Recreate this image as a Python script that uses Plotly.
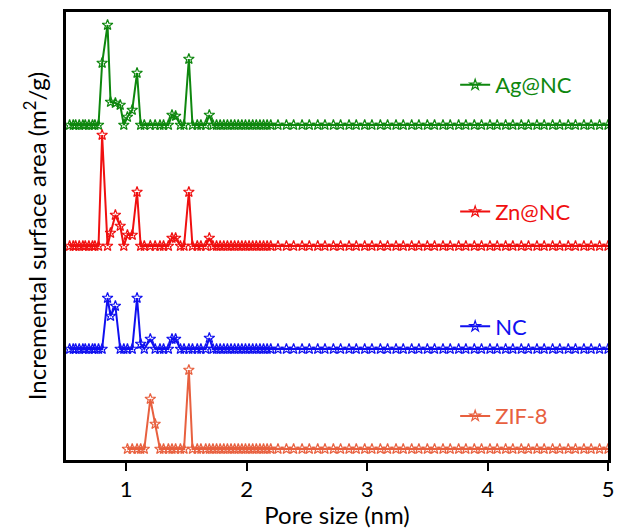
import plotly.graph_objects as go

# Pore size grid (nm)
pore = [0.53, 0.56, 0.58, 0.61, 0.64, 0.66, 0.69, 0.72, 0.74, 0.77,
        0.80, 0.845, 0.87, 0.91, 0.95, 0.98, 1.01, 1.05, 1.09, 1.12,
        1.15, 1.20, 1.24, 1.28, 1.31, 1.35, 1.38, 1.41, 1.45, 1.48,
        1.52, 1.55, 1.59, 1.62, 1.66, 1.69, 1.72, 1.75, 1.78, 1.81,
        1.84, 1.87, 1.90, 1.93, 1.96, 1.99, 2.02, 2.05, 2.08, 2.11,
        2.14, 2.17, 2.20, 2.26, 2.33, 2.39, 2.46, 2.52, 2.59, 2.65,
        2.72, 2.78, 2.85, 2.91, 2.98, 3.04, 3.11, 3.17, 3.24, 3.30,
        3.37, 3.43, 3.50, 3.56, 3.63, 3.69, 3.76, 3.82, 3.89, 3.95,
        4.02, 4.08, 4.15, 4.21, 4.28, 4.34, 4.41, 4.47, 4.54, 4.60,
        4.67, 4.73, 4.80, 4.86, 4.93, 5.00]

# Incremental surface area (arbitrary units, stacked)
ag_nc = [0, 0, 0, 0, 0, 0, 0, 0, 0, 0,
         62, 100, 23, 22, 20, 0, 8, 15, 52, 0,
         0, 0, 0, 0, 0, 0, 10, 9, 0, 0,
         66, 0, 0, 0, 0, 10, 0, 0, 0, 0,
         0, 0, 0, 0, 0, 0, 0, 0, 0, 0,
         0, 0, 0, 0, 0, 0, 0, 0, 0, 0,
         0, 0, 0, 0, 0, 0, 0, 0, 0, 0,
         0, 0, 0, 0, 0, 0, 0, 0, 0, 0,
         0, 0, 0, 0, 0, 0, 0, 0, 0, 0,
         0, 0, 0, 0, 0, 0]
zn_nc = [0, 0, 0, 0, 0, 0, 0, 0, 0, 0,
         111, 0, 13, 31, 20, 0, 11, 11, 54, 0,
         0, 0, 0, 0, 0, 0, 8, 8, 0, 0,
         54, 0, 0, 0, 0, 8, 0, 0, 0, 0,
         0, 0, 0, 0, 0, 0, 0, 0, 0, 0,
         0, 0, 0, 0, 0, 0, 0, 0, 0, 0,
         0, 0, 0, 0, 0, 0, 0, 0, 0, 0,
         0, 0, 0, 0, 0, 0, 0, 0, 0, 0,
         0, 0, 0, 0, 0, 0, 0, 0, 0, 0,
         0, 0, 0, 0, 0, 0]
nc = [0, 0, 0, 0, 0, 0, 0, 0, 0, 0,
      0, 51, 33, 43, 0, 0, 0, 0, 51, 5,
      0, 10, 0, 0, 0, 0, 10, 10, 0, 0,
      0, 0, 0, 0, 0, 11, 0, 0, 0, 0,
      0, 0, 0, 0, 0, 0, 0, 0, 0, 0,
      0, 0, 0, 0, 0, 0, 0, 0, 0, 0,
      0, 0, 0, 0, 0, 0, 0, 0, 0, 0,
      0, 0, 0, 0, 0, 0, 0, 0, 0, 0,
      0, 0, 0, 0, 0, 0, 0, 0, 0, 0,
      0, 0, 0, 0, 0, 0]
zif_start = 16  # ZIF-8 data begins at 1.01 nm
zif8 = [0, 0, 0, 0,
        0, 50, 25, 0, 0, 0, 0, 0, 0, 0,
        79, 0, 0, 0, 0, 0, 0, 0, 0, 0,
        0, 0, 0, 0, 0, 0, 0, 0, 0, 0,
        0, 0, 0, 0, 0, 0, 0, 0, 0, 0,
        0, 0, 0, 0, 0, 0, 0, 0, 0, 0,
        0, 0, 0, 0, 0, 0, 0, 0, 0, 0,
        0, 0, 0, 0, 0, 0, 0, 0, 0, 0,
        0, 0, 0, 0, 0, 0]

names = ["Ag@NC", "Zn@NC", "NC", "ZIF-8"]
offsets = [335, 214, 111, 11]
colors = ["#0E870E", "#F01010", "#1010F0", "#E8603F"]
legend_y = [0.837, 0.554, 0.298, 0.098]
legend_ids = ["legend", "legend2", "legend3", "legend4"]

xs = [pore, pore, pore, pore[zif_start:]]
ys = [ag_nc, zn_nc, nc, zif8]

FONT = "Lato"
fig = go.Figure()
for i in range(4):
    fig.add_trace(go.Scatter(
        x=xs[i], y=[v + offsets[i] for v in ys[i]],
        mode="lines+markers", name=names[i],
        line=dict(color=colors[i], width=2),
        marker=dict(symbol="star-open", size=8, color=colors[i],
                    line=dict(width=1.2, color=colors[i])),
        legend=legend_ids[i], showlegend=True))

layout_legends = {}
for i in range(4):
    layout_legends[legend_ids[i]] = dict(
        x=0.718, y=legend_y[i], xanchor="left", yanchor="middle",
        bgcolor="rgba(0,0,0,0)", borderwidth=0,
        font=dict(family=FONT, size=22, color=colors[i]))

fig.update_layout(
    width=623, height=529,
    margin=dict(l=66, r=9, t=12, b=69),
    plot_bgcolor="white", paper_bgcolor="white",
    font=dict(family=FONT, color="black"),
    xaxis=dict(range=[0.5, 5], tickvals=[1, 2, 3, 4, 5],
               ticks="outside", ticklen=8, tickwidth=2, tickcolor="black",
               showline=True, linewidth=2.5, linecolor="black", mirror=True,
               showgrid=False, zeroline=False,
               tickfont=dict(size=22, family=FONT),
               title=dict(text="Pore size (nm)", font=dict(size=24, family=FONT), standoff=0)),
    yaxis=dict(range=[0, 448], showticklabels=False, ticks="",
               showline=True, linewidth=2.5, linecolor="black", mirror=True,
               showgrid=False, zeroline=False,
               title=dict(text="Incremental surface area (m<sup>2</sup>/g)",
                          font=dict(size=24, family=FONT), standoff=10)),
    **layout_legends)

fig.write_html("out.html")
